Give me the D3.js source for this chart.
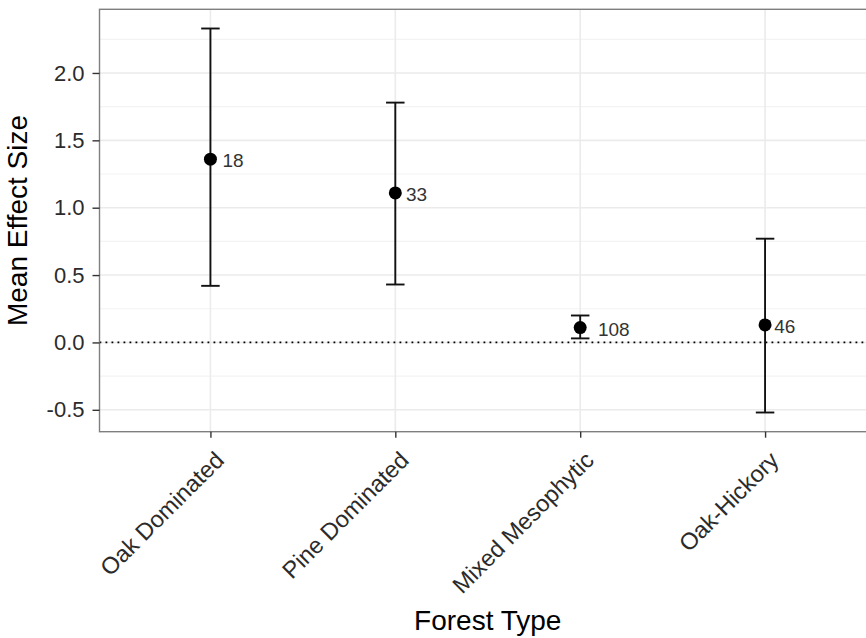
<!DOCTYPE html>
<html>
<head>
<meta charset="utf-8">
<script src="https://cdn.jsdelivr.net/npm/d3@7"></script>
<style>
  html, body { margin: 0; padding: 0; background: #fff; }
  svg { display: block; font-family: "Liberation Sans", Arial, sans-serif; }
</style>
</head>
<body>
<svg id="chart" width="866" height="638"></svg>
<script>
// ---- data ----
const categories = ["Oak Dominated", "Pine Dominated", "Mixed Mesophytic", "Oak-Hickory"];
const meanValues = [1.36, 1.11, 0.11, 0.13];
const upperValues = [2.33, 1.78, 0.20, 0.77];
const lowerValues = [0.42, 0.43, 0.03, -0.52];
const sampleSizes = ["18", "33", "108", "46"];
const labelNudge = [0.065, 0.058, 0.096, 0.049]; // in category steps
const yTickValues = [-0.5, 0.0, 0.5, 1.0, 1.5, 2.0];
const yMinorValues = [-0.25, 0.25, 0.75, 1.25, 1.75, 2.25];

const svg = d3.select("#chart");
const W = 866, H = 638;
const panel = { left: 99.5, right: 876, top: 9.3, bottom: 431.7 };

svg.append("rect").attr("width", W).attr("height", H).attr("fill", "#fff");

const x = d3.scalePoint().domain(categories).range([panel.left, panel.right]).padding(0.6);
const lo = d3.min(lowerValues), hi = d3.max(upperValues);
const pad = (hi - lo) * 0.05;
const y = d3.scaleLinear().domain([lo - pad, hi + pad]).range([panel.bottom, panel.top]);

const g = svg.append("g");

// minor grid
g.append("g").selectAll("line").data(yMinorValues).join("line")
  .attr("x1", panel.left).attr("x2", panel.right)
  .attr("y1", d => y(d)).attr("y2", d => y(d))
  .attr("stroke", "#f3f3f3").attr("stroke-width", 1.2);
// major grid
g.append("g").selectAll("line").data(yTickValues).join("line")
  .attr("x1", panel.left).attr("x2", panel.right)
  .attr("y1", d => y(d)).attr("y2", d => y(d))
  .attr("stroke", "#ebebeb").attr("stroke-width", 1.6);
g.append("g").selectAll("line").data(categories).join("line")
  .attr("x1", d => x(d)).attr("x2", d => x(d))
  .attr("y1", panel.top).attr("y2", panel.bottom)
  .attr("stroke", "#ebebeb").attr("stroke-width", 1.6);

// zero dotted line
g.append("line")
  .attr("x1", panel.left).attr("x2", panel.right)
  .attr("y1", y(0)).attr("y2", y(0))
  .attr("stroke", "#000").attr("stroke-width", 1.8)
  .attr("stroke-dasharray", "1.8,4.2");

// error bars
const capHalf = x.step() * 0.05;
const eb = g.append("g").selectAll("g").data(categories).join("g");
eb.append("line")
  .attr("x1", d => x(d)).attr("x2", d => x(d))
  .attr("y1", (d, i) => y(upperValues[i])).attr("y2", (d, i) => y(lowerValues[i]))
  .attr("stroke", "#111").attr("stroke-width", 1.9);
eb.append("line")
  .attr("x1", d => x(d) - capHalf).attr("x2", d => x(d) + capHalf)
  .attr("y1", (d, i) => y(upperValues[i])).attr("y2", (d, i) => y(upperValues[i]))
  .attr("stroke", "#111").attr("stroke-width", 1.9);
eb.append("line")
  .attr("x1", d => x(d) - capHalf).attr("x2", d => x(d) + capHalf)
  .attr("y1", (d, i) => y(lowerValues[i])).attr("y2", (d, i) => y(lowerValues[i]))
  .attr("stroke", "#111").attr("stroke-width", 1.9);
eb.append("circle")
  .attr("cx", d => x(d)).attr("cy", (d, i) => y(meanValues[i]))
  .attr("r", 6.5).attr("fill", "#000");
eb.append("text")
  .attr("x", (d, i) => x(d) + labelNudge[i] * x.step())
  .attr("y", (d, i) => y(meanValues[i]) + 1.5)
  .attr("dominant-baseline", "central")
  .attr("font-size", 19).attr("fill", "#333")
  .text((d, i) => sampleSizes[i]);

// panel border
svg.append("rect")
  .attr("x", panel.left).attr("y", panel.top)
  .attr("width", panel.right - panel.left).attr("height", panel.bottom - panel.top)
  .attr("fill", "none").attr("stroke", "#7f7f7f").attr("stroke-width", 1.4);

// y axis
const yAxis = svg.append("g").attr("transform", `translate(${panel.left},0)`)
  .call(d3.axisLeft(y).tickValues(yTickValues)
    .tickFormat(d => d3.format(".1f")(d).replace("\u2212", "-"))
    .tickSize(7).tickPadding(8));
yAxis.select(".domain").remove();
yAxis.selectAll(".tick line").attr("stroke", "#333").attr("stroke-width", 1.4);
yAxis.selectAll(".tick text").attr("font-size", 22).attr("fill", "#2b2b2b")
  .attr("font-family", "Liberation Sans, Arial, sans-serif");

// x axis
const xAxis = svg.append("g").attr("transform", `translate(0,${panel.bottom})`)
  .call(d3.axisBottom(x).tickSize(6).tickFormat(""));
xAxis.select(".domain").remove();
xAxis.selectAll(".tick line").attr("stroke", "#333").attr("stroke-width", 1.4);
svg.append("g").selectAll("text").data(categories).join("text")
  .attr("transform", d => `translate(${x(d) + 15},${panel.bottom + 30}) rotate(-45)`)
  .attr("text-anchor", "end")
  .attr("font-size", 23.5).attr("fill", "#2b2b2b")
  .text(d => d);

// axis titles
svg.append("text")
  .attr("x", (panel.left + panel.right) / 2).attr("y", 630)
  .attr("text-anchor", "middle").attr("font-size", 28).attr("fill", "#000")
  .text("Forest Type");
svg.append("text")
  .attr("transform", `translate(27,${(panel.top + panel.bottom) / 2}) rotate(-90)`)
  .attr("text-anchor", "middle").attr("font-size", 28).attr("fill", "#000")
  .text("Mean Effect Size");
</script>
</body>
</html>
